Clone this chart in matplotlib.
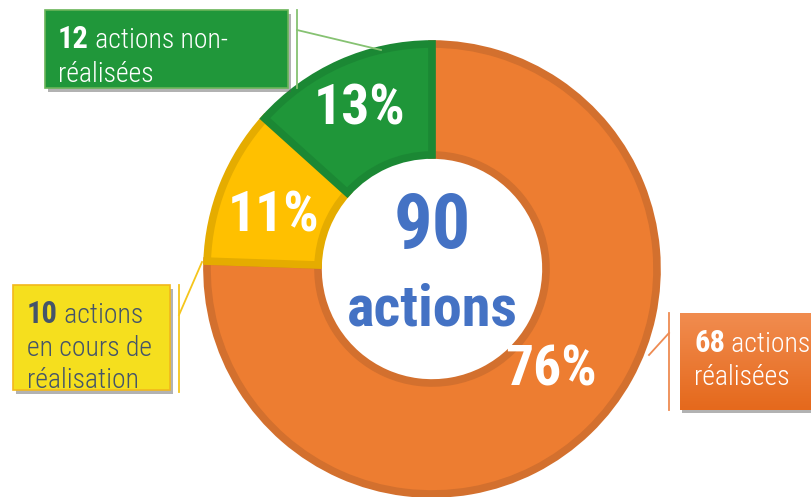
import numpy as np
import matplotlib
matplotlib.use("Agg")
import matplotlib.pyplot as plt
import matplotlib.patheffects as pe
from matplotlib.patches import Rectangle

# data
counts = [68, 10, 12]
box_lines = [["actions", "réalisées"],
             ["actions", "en cours de", "réalisation"],
             ["actions non-", "réalisées"]]
slice_colors = ["#ED7D31", "#FFC000", "#1F9639"]
edge_colors = ["#D3702E", "#E5AC00", "#1B8834"]
total = sum(counts)

plt.rcParams["font.family"] = ["Roboto Condensed", "Roboto", "DejaVu Sans"]
light_font = ["Roboto Condensed Light", "Roboto Condensed", "Roboto", "DejaVu Sans"]

W, H = 811, 497


def py(y):
    return H - y


fig = plt.figure(figsize=(W / 100, H / 100), dpi=100)
ax = fig.add_axes([0, 0, 1, 1])

cx, cy = 432, py(269)
wedges, _ = ax.pie(counts, colors=slice_colors, startangle=90, counterclock=False,
                   radius=225, center=(cx, cy),
                   wedgeprops=dict(width=111, linewidth=5.5))
# border drawn only on the inner side of each slice
for w, ec in zip(wedges, edge_colors):
    w.set_edgecolor(ec)
    w.set_clip_path(w)

# percentages inside the ring
pct_r = [155, 168, 177]
pct_shift = [6, 3, 0]
for w, c, r, sh in zip(wedges, counts, pct_r, pct_shift):
    ang = np.deg2rad((w.theta1 + w.theta2) / 2 + sh)
    ax.text(cx + r * np.cos(ang), cy + r * np.sin(ang) - 2, f"{round(100 * c / total)}%",
            ha="center", va="center", color="white", fontsize=40, fontweight="bold")

# total in the hole
ax.text(cx, py(248), str(total), ha="center", va="baseline", color="#4472C4",
        fontsize=55, fontweight="bold")
ax.text(cx, py(325), "actions", ha="center", va="baseline", color="#4472C4",
        fontsize=42, fontweight="bold")

shadow = [pe.withSimplePatchShadow(offset=(2, -3), shadow_rgbFace="#555555", alpha=0.45)]

# label boxes: (x0, y0, x1, y1) in pixel coords
boxes = [(680, 313, 815, 410), (13, 285, 170, 390), (45, 10, 288, 88)]
box_faces = [None, "#F5DF1E", "#20973A"]
box_edges = [None, "#F2B81B", "#6BB55A"]
text_colors = ["white", "#44546A", "white"]
text_x = [694, 27, 58]
baselines = [[352, 385], [323, 356, 388], [48, 82]]
line_colors = ["#EE8B52", "#F5C51C", "#86C272"]
vlines = [(669, 313, 410), (179, 285, 392), (297, 10, 88)]
diag = [((669, 333), (649, 355)), ((179, 315), (202, 262)), ((297, 30), (381, 50))]

for i in range(3):
    x0, y0, x1, y1 = boxes[i]
    if box_faces[i] is None:
        ax.add_patch(Rectangle((x0 + 2, py(y1) - 3), x1 - x0, y1 - y0,
                               facecolor="#555555", alpha=0.45, linewidth=0, zorder=3))
        grad = np.linspace(0, 1, 100).reshape(-1, 1)
        cmap = matplotlib.colors.LinearSegmentedColormap.from_list("o", ["#F18C4F", "#E5691C"])
        ax.imshow(grad, cmap=cmap, extent=[x0, x1, py(y1), py(y0)], origin="upper",
                  aspect="auto", zorder=4)
    else:
        ax.add_patch(Rectangle((x0, py(y1)), x1 - x0, y1 - y0, facecolor=box_faces[i],
                               edgecolor=box_edges[i], linewidth=1.2, zorder=4,
                               path_effects=shadow))
    vx, vy0, vy1 = vlines[i]
    ax.plot([vx, vx], [py(vy0), py(vy1)], color=line_colors[i], lw=1.3, zorder=2)
    (ax0, ay0), (ax1, ay1) = diag[i]
    ax.plot([ax0, ax1], [py(ay0), py(ay1)], color=line_colors[i], lw=1.3, zorder=2)

    t1 = ax.text(text_x[i], py(baselines[i][0]), str(counts[i]), color=text_colors[i],
                 fontsize=22, fontweight="bold", va="baseline", zorder=5)
    ax.annotate(" " + box_lines[i][0], xy=(1, 0), xycoords=t1, va="bottom", ha="left",
                color=text_colors[i], fontsize=20, family=light_font,
                fontweight="light", zorder=5)
    for line, b in zip(box_lines[i][1:], baselines[i][1:]):
        ax.text(text_x[i], py(b), line, color=text_colors[i], fontsize=20,
                family=light_font, fontweight="light", va="baseline", zorder=5)

ax.set_xlim(0, W)
ax.set_ylim(0, H)
ax.set_aspect("equal")
ax.axis("off")

fig.savefig("out.png", dpi=100)
